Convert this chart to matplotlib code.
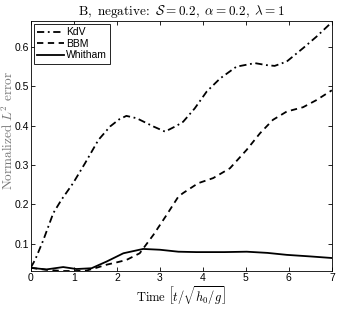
import matplotlib
matplotlib.use('Agg')
import matplotlib.pyplot as plt

# Values
t_kdv = [0.0, 0.1, 0.29, 0.52, 0.71, 0.98, 1.26, 1.57, 1.84, 2.05, 2.22, 2.46, 2.85, 3.12,
         3.39, 3.54, 3.81, 4.09, 4.40, 4.78, 5.21, 5.48, 5.67, 5.95, 6.33, 6.64, 7.0]
v_kdv = [0.04, 0.06, 0.11, 0.178, 0.212, 0.254, 0.305, 0.364, 0.398, 0.416, 0.425, 0.419,
         0.398, 0.385, 0.40, 0.41, 0.444, 0.487, 0.52, 0.55, 0.559, 0.554, 0.552, 0.563,
         0.597, 0.626, 0.663]

t_bbm = [0.0, 0.36, 0.75, 1.06, 1.29, 1.52, 1.76, 2.0, 2.22, 2.53, 2.85, 3.16, 3.43, 3.54,
         3.89, 4.24, 4.63, 5.02, 5.33, 5.63, 5.95, 6.33, 6.64, 7.0]
v_bbm = [0.039, 0.034, 0.031, 0.031, 0.032, 0.039, 0.047, 0.053, 0.059, 0.076, 0.123, 0.174,
         0.22, 0.229, 0.254, 0.267, 0.292, 0.339, 0.381, 0.415, 0.436, 0.447, 0.465, 0.49]

t_wh = [0.0, 0.36, 0.75, 1.06, 1.41, 1.76, 2.15, 2.61, 3.0, 3.43, 3.85, 4.5, 5.02, 5.5,
        5.95, 6.5, 7.0]
v_wh = [0.039, 0.035, 0.041, 0.036, 0.038, 0.055, 0.076, 0.087, 0.085, 0.080, 0.079, 0.079,
        0.080, 0.077, 0.072, 0.068, 0.064]

xticks = [0, 1, 2, 3, 4, 5, 6, 7]
yticks = [0.1, 0.2, 0.3, 0.4, 0.5, 0.6]

plt.rcParams['font.family'] = ['Liberation Sans', 'DejaVu Sans']
plt.rcParams['mathtext.fontset'] = 'cm'

fig = plt.figure(figsize=(3.4, 3.09), dpi=100)
ax = fig.add_axes([0.091, 0.123, 0.885, 0.809])

ax.plot(t_kdv, v_kdv, color='black', lw=1.3, dashes=(4, 2, 1, 2), label='KdV')
ax.plot(t_bbm, v_bbm, color='black', lw=1.3, dashes=(3.5, 2.5), label='BBM')
ax.plot(t_wh, v_wh, color='black', lw=1.3, ls='-', label='Whitham')

ax.set_xlim(0, 7)
ax.set_ylim(0.031, 0.666)
ax.set_xticks(xticks)
ax.set_yticks(yticks)
ax.set_yticklabels(['0.1', '0.2', '0.3', '0.4', '0.5', '0.6'])
ax.tick_params(direction='in', top=True, right=True, labelsize=7.5, length=3, width=0.6,
               pad=1.5)
for sp in ax.spines.values():
    sp.set_linewidth(0.6)

ax.set_title(r'$\mathrm{B,\ negative\!:}\ \mathcal{S}=0.2,\ \alpha=0.2,\ \lambda=1$',
             fontsize=9.5, pad=4)
ax.set_xlabel(r'$\mathrm{Time}\ \left[t/\sqrt{h_0/g}\right]$', fontsize=9, labelpad=1)
ax.set_ylabel(r'$\mathrm{Normalized}\ L^2\ \mathrm{error}$', fontsize=9.5, color='#777777')
ax.yaxis.set_label_coords(-0.05, 0.56)

leg = ax.legend(loc='upper left', fontsize=7.5, fancybox=False, framealpha=1,
                edgecolor='black', handlelength=2.6, handletextpad=0.2,
                borderaxespad=0.3, borderpad=0.3, labelspacing=0.15)
leg.get_frame().set_linewidth(0.6)

plt.savefig('out.png', dpi=100)
